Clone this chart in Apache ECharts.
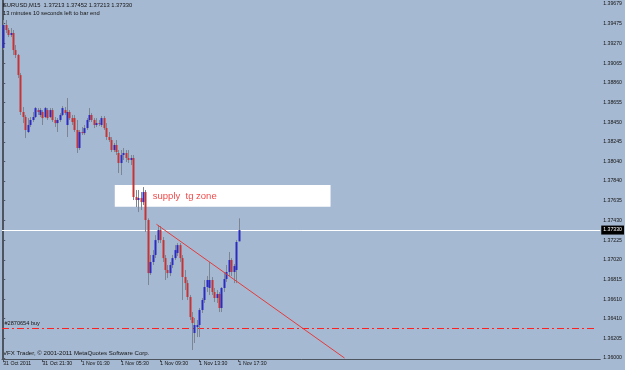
<!DOCTYPE html>
<html>
<head>
<meta charset="utf-8">
<script src="https://cdn.jsdelivr.net/npm/echarts@6/dist/echarts.min.js"></script>
<style>
html,body{margin:0;padding:0;background:#a6b9d2;}
#chart{width:625px;height:370px;}
</style>
</head>
<body>
<div id="chart"></div>
<script>
// ---- data (EURUSD M15, 31 Oct 2011 17:30 .. 1 Nov 2011 17:45) ----
const opens = [1.39222,1.39461,1.39409,1.39357,1.39378,1.39201,1.39149,1.38941,1.38557,1.38505,
1.38349,1.38422,1.38474,1.38505,1.38577,1.38526,1.38557,1.38505,1.38577,1.38505,
1.38577,1.38474,1.38442,1.38474,1.38526,1.38577,1.38422,1.38557,1.38494,1.38494,
1.38370,1.38183,1.38349,1.38338,1.38390,1.38474,1.38526,1.38474,1.38422,1.38442,
1.38422,1.38494,1.38390,1.38297,1.38266,1.38162,1.38214,1.38131,1.38027,1.38110,
1.38131,1.38079,1.38058,1.38079,1.37673,1.37642,1.37663,1.37621,1.37725,1.37434,
1.36883,1.36998,1.37071,1.37226,1.37330,1.37226,1.37039,1.36915,1.36883,1.36967,
1.37039,1.37091,1.37174,1.37039,1.36842,1.36779,1.36634,1.36426,1.36260,1.36322,
1.36343,1.36499,1.36603,1.36738,1.36728,1.36811,1.36686,1.36624,1.36665,1.36520,
1.36728,1.36821,1.36894,1.37019,1.36894,1.36915,1.37213];
const highs = [1.39513,1.39513,1.39430,1.39430,1.39409,1.39253,1.39160,1.38962,1.38609,1.38526,
1.38494,1.38505,1.38557,1.38609,1.38598,1.38598,1.38577,1.38609,1.38598,1.38598,
1.38598,1.38505,1.38494,1.38546,1.38619,1.38609,1.38702,1.38577,1.38526,1.38526,
1.38474,1.38370,1.38401,1.38422,1.38494,1.38598,1.38546,1.38494,1.38494,1.38474,
1.38515,1.38515,1.38442,1.38349,1.38297,1.38235,1.38266,1.38162,1.38162,1.38183,
1.38162,1.38162,1.38110,1.38110,1.37746,1.37746,1.37725,1.37777,1.37746,1.37452,
1.37071,1.37122,1.37278,1.37382,1.37372,1.37258,1.37071,1.36967,1.36998,1.37071,
1.37174,1.37195,1.37195,1.37071,1.36915,1.36811,1.36655,1.36478,1.36416,1.36395,
1.36520,1.36624,1.36811,1.36852,1.36998,1.36842,1.36728,1.36707,1.36686,1.36738,
1.36894,1.36967,1.37102,1.37039,1.36977,1.37226,1.37452];
const lows = [1.39201,1.39378,1.39336,1.39336,1.39149,1.39118,1.38910,1.38526,1.38442,1.38286,
1.38338,1.38401,1.38453,1.38494,1.38526,1.38505,1.38422,1.38494,1.38474,1.38494,
1.38453,1.38401,1.38349,1.38453,1.38515,1.38526,1.38297,1.38474,1.38422,1.38349,
1.38131,1.38162,1.38318,1.38318,1.38370,1.38453,1.38453,1.38390,1.38401,1.38411,
1.38401,1.38370,1.38266,1.38245,1.38141,1.38141,1.38110,1.37923,1.37902,1.38058,
1.38037,1.38027,1.38006,1.37642,1.37569,1.37517,1.37538,1.37590,1.37310,1.36759,
1.36863,1.36967,1.37039,1.37195,1.37195,1.36998,1.36811,1.36831,1.36852,1.36935,
1.37019,1.37060,1.36998,1.36603,1.36707,1.36603,1.36395,1.36083,1.36156,1.36218,
1.36218,1.36468,1.36572,1.36686,1.36655,1.36655,1.36582,1.36572,1.36478,1.36478,
1.36686,1.36790,1.36852,1.36852,1.36779,1.36779,1.37213];
const closes = [1.39461,1.39409,1.39357,1.39378,1.39201,1.39149,1.38941,1.38557,1.38505,1.38370,
1.38422,1.38474,1.38505,1.38598,1.38557,1.38577,1.38494,1.38598,1.38494,1.38577,
1.38474,1.38442,1.38474,1.38526,1.38598,1.38546,1.38557,1.38494,1.38453,1.38370,
1.38183,1.38349,1.38338,1.38390,1.38474,1.38526,1.38474,1.38422,1.38442,1.38432,
1.38494,1.38390,1.38297,1.38266,1.38162,1.38214,1.38141,1.38027,1.38110,1.38131,
1.38079,1.38058,1.38079,1.37673,1.37642,1.37663,1.37621,1.37725,1.37434,1.36883,
1.36998,1.37071,1.37226,1.37330,1.37226,1.37039,1.36915,1.36883,1.36967,1.37039,
1.37122,1.37174,1.37039,1.36842,1.36779,1.36634,1.36426,1.36364,1.36343,1.36343,
1.36499,1.36603,1.36738,1.36811,1.36811,1.36686,1.36624,1.36665,1.36520,1.36728,
1.36821,1.36894,1.37019,1.36894,1.36956,1.37206,1.37330];

const xTickIndex = [0,16,32,48,64,80,96];
const xTickLabels = ["31 Oct 2011","31 Oct 21:30","1 Nov 01:30","1 Nov 05:30","1 Nov 09:30","1 Nov 13:30","1 Nov 17:30"];
const yTickValues = [1.39679,1.39475,1.39270,1.39065,1.38860,1.38655,1.38450,1.38245,1.38040,1.37840,
1.37635,1.37430,1.37225,1.37020,1.36815,1.36610,1.36410,1.36205,1.36000];
const bidPrice = 1.37330;
const buyPrice = 1.36317;
const trendLine = [[62.5,1.37390],[139.2,1.36000]];
const supplyZone = {from:45.5, to:133.5, low:1.37572, high:1.37798};
const supplyText = "supply  tg zone";
const supplyTextAt = [61, 1.37684];
const titleLine1 = "EURUSD,M15  1.37213 1.37452 1.37213 1.37330";
const titleLine2 = "13 minutes 10 seconds left to bar end";
const copyright = "VFX Trader, \u00a9 2001-2011 MetaQuotes Software Corp.";
const orderLabel = "#2870654 buy";

// ---- chart ----
const FONT = "'Liberation Sans', Arial, sans-serif";
const BG = '#a6b9d2';
const AXIS = '#4d5560';
const BULL = '#2b2bc0';
const BEAR = '#c43434';
const WICK = '#7d8592';
const X_MIN = -0.5, X_MAX = 243.5;
const Y_MIN = 1.35990, Y_MAX = 1.39721;

const candleData = opens.map((o,i)=>[i,o,closes[i],lows[i],highs[i]]);
const labelMap = {};
xTickIndex.forEach((v,i)=>{labelMap[v]=xTickLabels[i];});

function renderCandle(params, api){
  const x = api.value(0), o = api.value(1), c = api.value(2), l = api.value(3), h = api.value(4);
  const pO = api.coord([x,o]), pC = api.coord([x,c]), pL = api.coord([x,l]), pH = api.coord([x,h]);
  const xc = Math.round(pO[0]) + 0.5;
  const top = Math.min(pO[1], pC[1]);
  const bot = Math.max(pO[1], pC[1]);
  return {type:'group', children:[
    {type:'line', shape:{x1:xc,y1:pH[1],x2:xc,y2:pL[1]}, style:{stroke:WICK,lineWidth:1}},
    {type:'rect', shape:{x:xc-1, y:top, width:2, height:Math.max(1,bot-top)}, style:{fill: c>=o?BULL:BEAR}}
  ]};
}

function renderOrderLine(params, api){
  const p1 = api.coord([api.value(0), api.value(2)]);
  const p2 = api.coord([api.value(1), api.value(2)]);
  const y = Math.round(p1[1]) + 0.5;
  return {type:'line', shape:{x1:p1[0], y1:y, x2:p2[0], y2:y},
    style:{stroke:'#ff2020', lineWidth:1, lineDash:[7,3,2,3]}};
}

const chart = echarts.init(document.getElementById('chart'), null, {renderer:'canvas'});
chart.setOption({
  backgroundColor: BG,
  animation: false,
  textStyle:{fontFamily:FONT},
  grid:{left:2, right:23, top:0, bottom:11},
  title:{
    text: titleLine1, subtext: titleLine2, left:1, top:1, itemGap:2, padding:[1,2],
    textStyle:{fontSize:5.8, fontWeight:'normal', color:'#141414', fontFamily:FONT},
    subtextStyle:{fontSize:5.8, color:'#141414', fontFamily:FONT}
  },
  graphic:[
    {type:'text', left:3, top:350, style:{text:copyright, fontSize:6.1, fill:'#141414', fontFamily:FONT}}
  ],
  xAxis:{
    type:'value', min:X_MIN, max:X_MAX,
    axisLine:{show:true, lineStyle:{color:AXIS, width:1}},
    splitLine:{show:false},
    axisTick:{show:true, customValues:xTickIndex, length:3, lineStyle:{color:AXIS}},
    axisLabel:{customValues:xTickIndex, formatter:v=>labelMap[Math.round(v)]||'', align:'left',
      margin:2, fontSize:5.2, color:'#141414', fontFamily:FONT}
  },
  yAxis:[{
    type:'value', position:'right', min:Y_MIN, max:Y_MAX,
    axisLine:{show:true, lineStyle:{color:AXIS, width:1}},
    splitLine:{show:false},
    axisTick:{show:true, customValues:yTickValues, length:2, lineStyle:{color:AXIS}},
    axisLabel:{customValues:yTickValues, formatter:v=>v.toFixed(5), margin:3, fontSize:5.2,
      color:'#141414', fontFamily:FONT}
  },{
    type:'value', position:'left', min:Y_MIN, max:Y_MAX,
    axisLine:{show:true, lineStyle:{color:AXIS, width:1}},
    axisTick:{show:false}, axisLabel:{show:false}, splitLine:{show:false}
  }],
  series:[
    {
      type:'line', data:[], z:1,
      markArea:{silent:true, itemStyle:{color:'#ffffff'}, label:{show:false},
        data:[[{coord:[supplyZone.from, supplyZone.high]},{coord:[supplyZone.to, supplyZone.low]}]]},
      markPoint:{symbol:'circle', symbolSize:0, silent:true,
        label:{show:true, position:'right', distance:0, formatter:supplyText, fontSize:9.5, color:'#f04a4a', fontFamily:FONT},
        data:[{coord:supplyTextAt}]}
    },
    {
      type:'custom', z:2, silent:true, renderItem:renderOrderLine,
      data:[[X_MIN, X_MAX - 1.5, buyPrice]], encode:{x:[0,1], y:2}
    },
    {
      type:'line', data:[], z:2,
      markPoint:{symbol:'circle', symbolSize:0, silent:true,
        label:{show:true, position:'right', distance:0, offset:[0,-4], formatter:orderLabel, fontSize:5.6,
          color:'#141414', fontFamily:FONT},
        data:[{coord:[0.5, buyPrice]}]}
    },
    {
      type:'line', data:[], z:2,
      markLine:{silent:true, symbol:['none','none'], precision:5,
        lineStyle:{color:'#ffffff', width:1, type:'solid'},
        label:{show:true, position:'end', formatter:bidPrice.toFixed(5), fontSize:5.2, color:'#ffffff',
          backgroundColor:'#000000', padding:[2,2,2,2], distance:1},
        data:[[{coord:[X_MIN, bidPrice]},{coord:[X_MAX, bidPrice]}]]}
    },
    {
      type:'custom', renderItem:renderCandle, data:candleData, z:5,
      encode:{x:0, y:[1,2,3,4]}
    },
    {
      type:'line', data:trendLine, z:6, symbol:'none', clip:true,
      lineStyle:{color:'#e33b3b', width:1}
    }
  ]
});
</script>
</body>
</html>
